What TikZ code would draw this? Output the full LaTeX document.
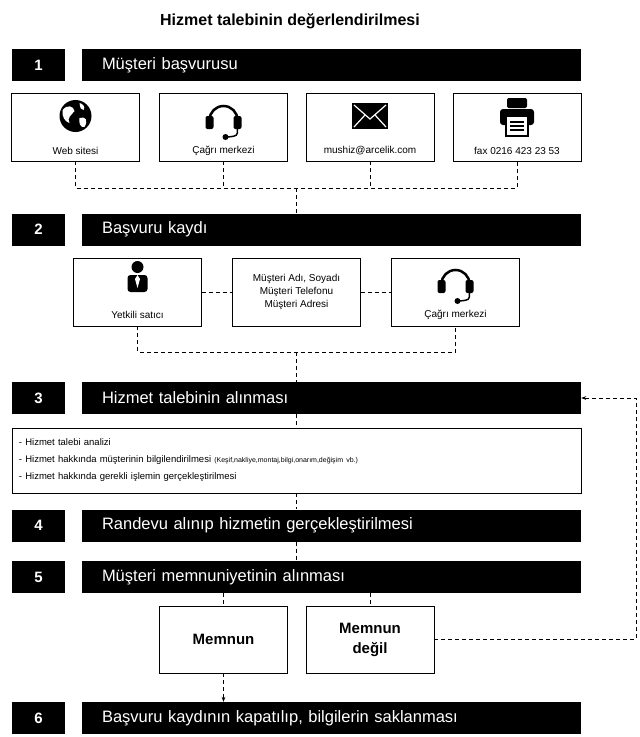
\documentclass[tikz,border=0pt]{standalone}
\usepackage{fontspec}
\setmainfont{Liberation Sans}
\usetikzlibrary{arrows.meta,calc}
\begin{document}
\begin{tikzpicture}[x=1pt, y=-1pt,
        num/.style={fill=black, text=white, font=\bfseries\fontsize{15}{15}\selectfont, minimum width=53pt, minimum height=32pt, inner sep=0pt},
        bar/.style={fill=black, text=white, font=\fontsize{16.5}{16.5}\selectfont, text width=459pt, minimum height=32pt, inner xsep=20pt, inner ysep=0pt, align=left},
        box/.style={draw, thick, minimum width=128pt, minimum height=68pt, inner sep=0pt},
        small/.style={font=\fontsize{10}{10}\selectfont, inner sep=0pt},
        dashes/.style={thick, dash pattern=on 4pt off 3pt}
    ]
        \useasboundingbox (0,0) rectangle (640,737);

        % Başlık
        \node[font=\bfseries\fontsize{16}{16}\selectfont] (title) at (290,21) {Hizmet talebinin değerlendirilmesi};

        % Adımlar
        \node[num] (n1) at (38.5,65) {1};
        \node[bar] (bar1) at (331.5,65) {Müşteri başvurusu};
        \node[num] (n2) at (38.5,229.5) {2};
        \node[bar] (bar2) at (331.5,229.5) {Başvuru kaydı};
        \node[num] (n3) at (38.5,398) {3};
        \node[bar] (bar3) at (331.5,398) {Hizmet talebinin alınması};
        \node[num] (n4) at (38.5,525.5) {4};
        \node[bar] (bar4) at (331.5,525.5) {Randevu alınıp hizmetin gerçekleştirilmesi};
        \node[num] (n5) at (38.5,577) {5};
        \node[bar] (bar5) at (331.5,577) {Müşteri memnuniyetinin alınması};
        \node[num] (n6) at (38.5,718) {6};
        \node[bar] (bar6) at (331.5,718) {Başvuru kaydının kapatılıp, bilgilerin saklanması};

        % Başvuru kanalları
        \node[box] (web) at (75.5,127) {};
        \node[box] (call) at (223.5,127) {};
        \node[box] (mail) at (370,127) {};
        \node[box] (fax) at (517,127) {};
        \node[small] (webtxt) at (75.5,151) {Web sitesi};
        \node[small] (calltxt) at (223.5,151) {Çağrı merkezi};
        \node[small] (mailtxt) at (370,151) {mushiz@arcelik.com};
        \node[small] (faxtxt) at (517,151) {fax 0216 423 23 53};

        % ikonlar
        \begin{scope}[shift={(75.5,116)}]
            \fill (0,0) circle (16);
            \fill[white] (-13,-6) .. controls (-8,-12) and (-2,-10) .. (-1,-5) .. controls (-4,-1) and (-9,2) .. (-6,7) .. controls (-10,6) and (-14,1) .. cycle;
            \fill[white] (4,2) .. controls (10,0) and (13,4) .. (9,11) .. controls (5,12) and (3,7) .. cycle;
            \fill[white] (4,-13) .. controls (8,-12) and (10,-9) .. (8,-6) .. controls (5,-7) .. cycle;
        \end{scope}
        \foreach \px/\py in {223.5/116, 455.5/280} {
            \begin{scope}[shift={(\px,\py)}]
                \draw[line width=2.5pt] (-14,4) arc (180:360:14);
                \fill[rounded corners=2pt] (-18,0) rectangle (-10,13);
                \fill[rounded corners=2pt] (10,0) rectangle (18,13);
                \draw[line width=1.5pt] (14,13) .. controls (14,20) .. (4,21);
                \fill (2,21) circle (3);
            \end{scope}
        }
        \begin{scope}[shift={(370,116)}]
            \fill (-18,-13) rectangle (18,13);
            \draw[white, line width=1.2pt] (-16,-11) -- (0,3) -- (16,-11);
            \draw[white, line width=1.2pt] (-16,11) -- (-5,-1);
            \draw[white, line width=1.2pt] (16,11) -- (5,-1);
        \end{scope}
        \begin{scope}[shift={(517,116)}]
            \fill[rounded corners=2pt] (-10,-18) rectangle (10,-8);
            \fill[rounded corners=3pt] (-17,-7) rectangle (17,9);
            \filldraw[fill=white, line width=2pt] (-11,0) rectangle (11,20);
            \draw[line width=1.3pt] (-7,6) -- (7,6) (-7,10) -- (7,10) (-7,14) -- (7,14);
        \end{scope}

        % Başvuru kaydı kutuları
        \node[box] (dealer) at (137.5,292) {};
        \node[box, align=center, font=\fontsize{10}{13}\selectfont] (info) at (296.5,292) {Müşteri Adı, Soyadı\\Müşteri Telefonu\\Müşteri Adresi};
        \node[box] (call2) at (455.5,292) {};
        \node[small] (dealertxt) at (137.5,315) {Yetkili satıcı};
        \node[small] (call2txt) at (455.5,315) {Çağrı merkezi};
        \begin{scope}[shift={(137.5,280)}]
            \fill (0,-13) circle (6);
            \fill[rounded corners=3pt] (-10,12) rectangle (10,-5);
            \fill[white] (0,-5) -- (-2.5,-1) -- (0,8) -- (2.5,-1) -- cycle;
        \end{scope}

        % Hizmet talebi detayları
        \node[draw, thick, minimum width=569pt, minimum height=65pt, text width=555pt, align=left, font=\fontsize{9.5}{17}\selectfont] (details) at (296.5,460.5)
            {- Hizmet talebi analizi\\
             - Hizmet hakkında müşterinin bilgilendirilmesi {\fontsize{7}{7}\selectfont(Keşif,nakliye,montaj,bilgi,onarım,değişim vb.)}\\
             - Hizmet hakkında gerekli işlemin gerçekleştirilmesi};

        % Memnuniyet
        \node[box, minimum height=67pt, font=\bfseries\fontsize{15}{15}\selectfont] (yes) at (223.5,639.5) {Memnun};
        \node[box, minimum height=67pt, align=center, font=\bfseries\fontsize{15}{20}\selectfont] (no) at (370,639.5) {Memnun\\değil};

        % Bağlantılar
        \coordinate (j1) at (296,188);
        \coordinate (j2) at (296,352);
        \coordinate (fb) at (636,642);
        \draw[dashes] (web.south) |- (fax.south |- j1) -- (fax.south);
        \draw[dashes] (call.south) -- (call.south |- j1);
        \draw[dashes] (mail.south) -- (mail.south |- j1);
        \draw[dashes] (j1) -- (bar2.north -| j1);
        \draw[dashes] (dealer.east) -- (info.west);
        \draw[dashes] (info.east) -- (call2.west);
        \draw[dashes] (dealer.south) |- (call2.south |- j2) -- (call2.south);
        \draw[dashes] (j2) -- (bar3.north -| j2);
        \draw[dashes] (bar3.south -| j2) -- (details.north -| j2);
        \draw[dashes] (details.south -| j2) -- (bar4.north -| j2);
        \draw[dashes] (bar4.south -| j2) -- (bar5.north -| j2);
        \draw[dashes] (bar5.south -| yes) -- (yes.north);
        \draw[dashes] (bar5.south -| no) -- (no.north);
        \draw[dashes, -{Stealth[length=5pt]}] (yes.south) -- (bar6.north -| yes);
        \draw[dashes, -{Stealth[length=5pt]}] (no.east) -- (no.east -| fb) |- (bar3.east);
    \end{tikzpicture}
\end{document}
